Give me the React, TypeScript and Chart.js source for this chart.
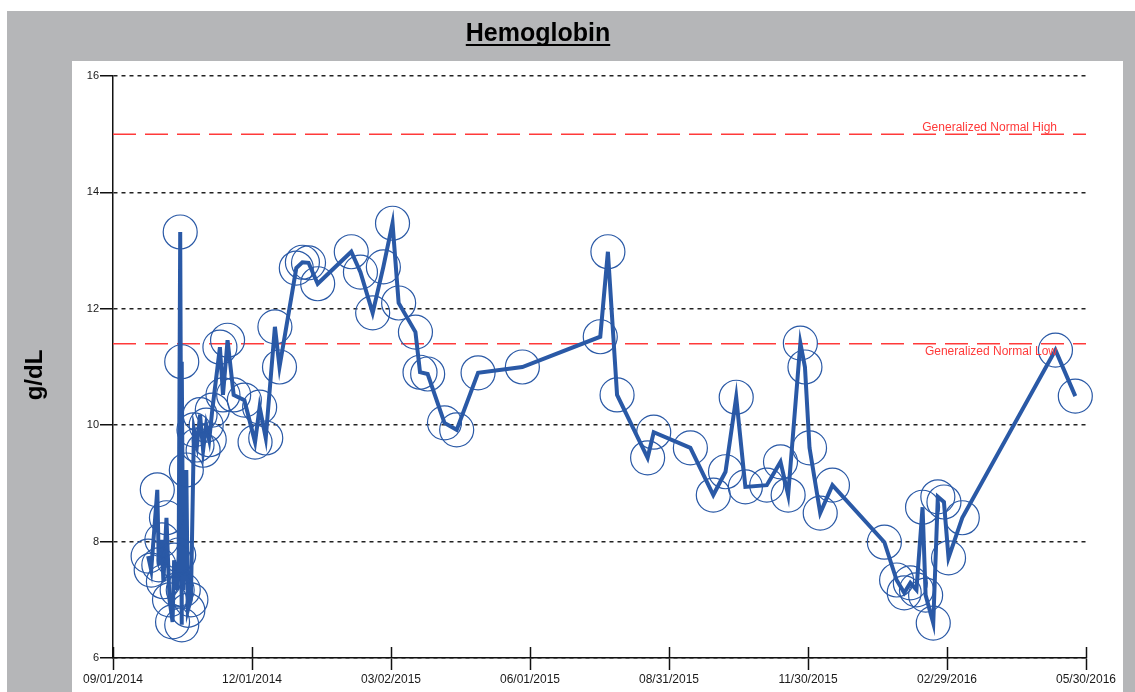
import React, { useEffect, useRef } from "react";
import { Chart, registerables } from "chart.js";

Chart.register(...registerables);

const START_DATE = "2014-09-01";
const TICK_DATES = ["2014-09-01", "2014-12-01", "2015-03-02", "2015-06-01", "2015-08-31", "2015-11-30", "2016-02-29", "2016-05-30"];
const Y_TICKS = [6, 8, 10, 12, 14, 16];
const NORMAL_HIGH = 15;
const NORMAL_LOW = 11.4;
const HIGH_LABEL = "Generalized Normal High";
const LOW_LABEL = "Generalized Normal Low";
const TITLE = "Hemoglobin";
const UNIT = "g/dL";

const SAMPLE_DATES = [
  "2014-09-24", "2014-09-26", "2014-09-30", "2014-10-01", "2014-10-03", "2014-10-04", "2014-10-06", "2014-10-08",
  "2014-10-10", "2014-10-11", "2014-10-13", "2014-10-14", "2014-10-15", "2014-10-16", "2014-10-16", "2014-10-17",
  "2014-10-19", "2014-10-20", "2014-10-22", "2014-10-24", "2014-10-26", "2014-10-28", "2014-10-30", "2014-11-01",
  "2014-11-03", "2014-11-05", "2014-11-10", "2014-11-12", "2014-11-15", "2014-11-19", "2014-11-26", "2014-12-03",
  "2014-12-06", "2014-12-10", "2014-12-16", "2014-12-19", "2014-12-30", "2015-01-03", "2015-01-07", "2015-01-13",
  "2015-02-04", "2015-02-10", "2015-02-18", "2015-02-25", "2015-03-03", "2015-03-07", "2015-03-18", "2015-03-21",
  "2015-03-26", "2015-04-06", "2015-04-14", "2015-04-28", "2015-05-27", "2015-07-17", "2015-07-22", "2015-07-28",
  "2015-08-17", "2015-08-21", "2015-09-14", "2015-09-29", "2015-10-07", "2015-10-14", "2015-10-20", "2015-11-03",
  "2015-11-12", "2015-11-17", "2015-11-25", "2015-11-28", "2015-12-01", "2015-12-08", "2015-12-16", "2016-01-19",
  "2016-01-27", "2016-02-01", "2016-02-05", "2016-02-09", "2016-02-13", "2016-02-15", "2016-02-20", "2016-02-23",
  "2016-02-27", "2016-03-01", "2016-03-10", "2016-05-10", "2016-05-23",
];

const HEMOGLOBIN = [
  7.75, 7.51, 8.89, 7.6, 8.03, 7.31, 8.41, 7.0,
  6.62, 7.68, 7.17, 7.77, 13.32, 6.57, 11.09, 7.17,
  9.23, 6.82, 7.0, 9.92, 9.66, 10.18, 9.57, 10.0,
  9.75, 10.26, 11.34, 10.52, 11.46, 10.52, 10.43, 9.71,
  10.31, 9.78, 11.69, 11.0, 12.7, 12.8, 12.79, 12.43,
  12.98, 12.63, 11.93, 12.72, 13.47, 12.1, 11.6, 10.91,
  10.88, 10.04, 9.92, 10.9, 11.0, 11.52, 12.98, 10.52,
  9.44, 9.88, 9.61, 8.8, 9.2, 10.48, 8.94, 8.97,
  9.37, 8.8, 11.41, 11.0, 9.61, 8.49, 8.97, 7.99,
  7.34, 7.12, 7.29, 7.17, 8.59, 7.08, 6.6, 8.77,
  8.68, 7.72, 8.41, 11.29, 10.5,
];

const FONT = "'Liberation Sans', Arial, sans-serif";
const BLUE = "#2a59a6";
const RED = "#ff3a3a";
const GRAY = "#b5b6b8";

const toUTC = (s: string) => {
  const [y, m, d] = s.split("-").map(Number);
  return Date.UTC(y, m - 1, d);
};
const dayOf = (s: string) => Math.round((toUTC(s) - toUTC(START_DATE)) / 86400000);
const fmt = (s: string) => {
  const [y, m, d] = s.split("-");
  return `${m}/${d}/${y}`;
};

const X_MIN = dayOf(TICK_DATES[0]);
const X_MAX = dayOf(TICK_DATES[TICK_DATES.length - 1]);

const decorPlugin = {
  id: "decor",
  beforeDraw(chart: any) {
    const { ctx, width, height } = chart;
    ctx.save();
    ctx.fillStyle = "#ffffff";
    ctx.fillRect(0, 0, width, height);
    ctx.fillStyle = GRAY;
    ctx.fillRect(7, 11, width - 7, height - 11);
    ctx.fillStyle = "#ffffff";
    ctx.fillRect(72, 61, 1123 - 72, height - 61);
    ctx.restore();
  },
  afterDraw(chart: any) {
    const { ctx, chartArea, scales } = chart;
    const x = scales.x;
    const y = scales.y;
    ctx.save();
    // upper halves of x tick marks
    ctx.strokeStyle = "#111";
    ctx.lineWidth = 1.5;
    x.ticks.forEach((t: any) => {
      const px = Math.round(x.getPixelForValue(t.value)) + 0.5;
      ctx.beginPath();
      ctx.moveTo(px, chartArea.bottom);
      ctx.lineTo(px, chartArea.bottom - 11);
      ctx.stroke();
    });
    // reference labels
    ctx.fillStyle = RED;
    ctx.font = `12px ${FONT}`;
    ctx.textAlign = "right";
    ctx.textBaseline = "bottom";
    ctx.fillText(HIGH_LABEL, 1057, y.getPixelForValue(NORMAL_HIGH) - 1);
    ctx.textBaseline = "top";
    ctx.fillText(LOW_LABEL, 1057, y.getPixelForValue(NORMAL_LOW) + 2);
    // title
    ctx.fillStyle = "#000";
    ctx.font = `bold 25px ${FONT}`;
    ctx.textAlign = "center";
    ctx.textBaseline = "alphabetic";
    const tx = 538;
    const ty = 41;
    ctx.fillText(TITLE, tx, ty);
    const w = ctx.measureText(TITLE).width;
    ctx.fillRect(tx - w / 2, ty + 3, w, 2);
    // y axis unit
    ctx.translate(35, 375);
    ctx.rotate(-Math.PI / 2);
    ctx.font = `bold 24px ${FONT}`;
    ctx.textBaseline = "middle";
    ctx.fillText(UNIT, 0, 0);
    ctx.restore();
  },
};

export default function App() {
  const ref = useRef<HTMLCanvasElement>(null);
  useEffect(() => {
    if (!ref.current) return;
    const points = SAMPLE_DATES.map((d, i) => ({ x: dayOf(d), y: HEMOGLOBIN[i] }));
    const chart = new Chart(ref.current, {
      type: "line",
      data: {
        datasets: [
          {
            label: "Hemoglobin",
            data: points,
            borderColor: BLUE,
            borderWidth: 4,
            pointRadius: 17,
            pointBorderWidth: 1.2,
            pointBorderColor: BLUE,
            pointBackgroundColor: "rgba(0,0,0,0)",
            tension: 0,
            clip: false as any,
          },
          {
            label: HIGH_LABEL,
            data: [
              { x: X_MIN, y: NORMAL_HIGH },
              { x: X_MAX, y: NORMAL_HIGH },
            ],
            borderColor: RED,
            borderWidth: 1.6,
            borderDash: [23, 9],
            pointRadius: 0,
          },
          {
            label: LOW_LABEL,
            data: [
              { x: X_MIN, y: NORMAL_LOW },
              { x: X_MAX, y: NORMAL_LOW },
            ],
            borderColor: RED,
            borderWidth: 1.6,
            borderDash: [23, 9],
            pointRadius: 0,
          },
        ],
      },
      options: {
        animation: false,
        responsive: true,
        maintainAspectRatio: false,
        layout: { padding: { left: 0, top: 76, right: 49, bottom: 0 }, autoPadding: false },
        plugins: {
          legend: { display: false },
          title: { display: false },
          tooltip: { enabled: false },
        },
        scales: {
          x: {
            type: "linear",
            min: X_MIN,
            max: X_MAX,
            afterBuildTicks: (scale: any) => {
              scale.ticks = TICK_DATES.map((d) => ({ value: dayOf(d) }));
            },
            afterFit: (scale: any) => {
              scale.height = 34;
            },
            ticks: {
              autoSkip: false,
              maxRotation: 0,
              padding: 2,
              color: "#1a1a1a",
              font: { family: FONT, size: 12 },
              callback: (_v: any, i: number) => fmt(TICK_DATES[i]),
            },
            grid: {
              display: true,
              drawOnChartArea: false,
              drawTicks: true,
              tickLength: 12,
              tickColor: "#111",
              tickWidth: 1.5,
              color: "#111",
            },
            border: { display: true, color: "#111", width: 1.5 },
          },
          y: {
            type: "linear",
            min: Y_TICKS[0],
            max: Y_TICKS[Y_TICKS.length - 1],
            afterBuildTicks: (scale: any) => {
              scale.ticks = Y_TICKS.map((v) => ({ value: v }));
            },
            afterFit: (scale: any) => {
              scale.width = 113;
            },
            ticks: {
              padding: 1,
              color: "#1a1a1a",
              font: { family: FONT, size: 11 },
              callback: (v: any) => String(v),
            },
            grid: {
              display: true,
              drawOnChartArea: true,
              drawTicks: true,
              tickLength: 13,
              tickColor: "#111",
              tickWidth: 1.5,
              tickBorderDash: [],
              color: "#222",
              lineWidth: 1.5,
            },
            border: { display: true, color: "#111", width: 1.5, dash: [4, 4] },
          },
        },
      } as any,
      plugins: [decorPlugin],
    });
    return () => chart.destroy();
  }, []);

  return (
    <div style={{ position: "absolute", left: 0, top: 0, width: 1135, height: 692 }}>
      <canvas ref={ref} />
    </div>
  );
}
